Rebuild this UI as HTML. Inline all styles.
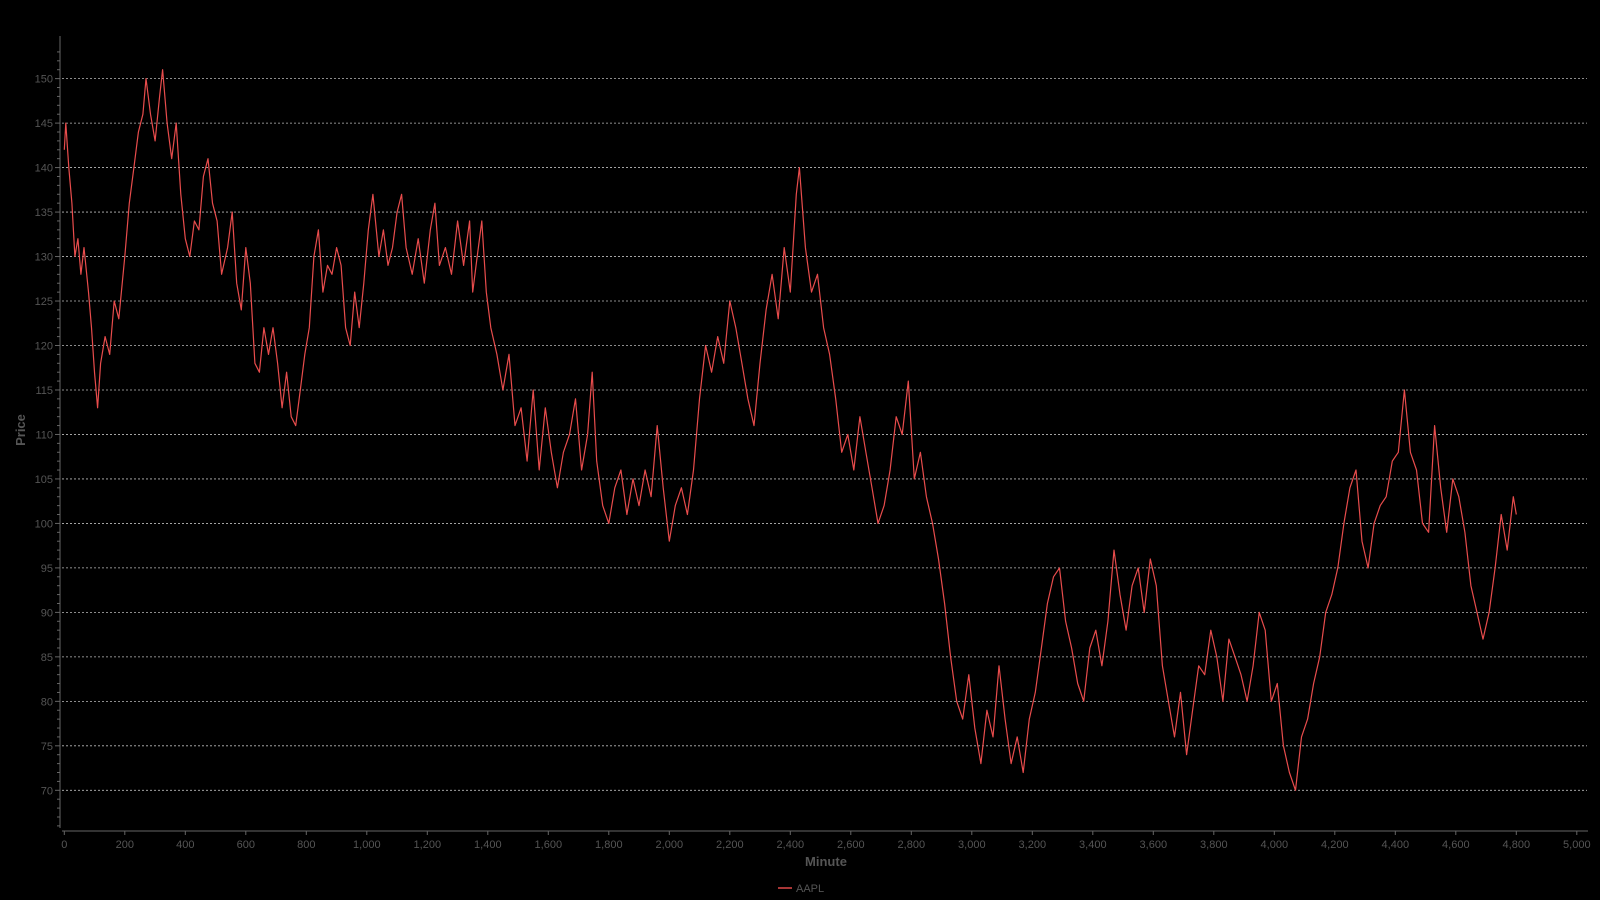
<!DOCTYPE html>
<html><head><meta charset="utf-8"><style>
html,body{margin:0;padding:0;background:#000;}
svg{display:block;font-family:"Liberation Sans",sans-serif;}
</style></head><body>
<svg id="chart" width="1600" height="900" viewBox="0 0 1600 900">
<rect width="1600" height="900" fill="#000"/>
<g id="grid"></g>
<g id="yaxis"></g>
<g id="xaxis"></g>
<g id="series"></g>
<text x="826" y="866" fill="#555" font-size="13" font-weight="bold" text-anchor="middle">Minute</text>
<text transform="translate(25,430) rotate(-90)" fill="#555" font-size="13" font-weight="bold" text-anchor="middle">Price</text>
<g>
<line x1="778" y1="888" x2="792" y2="888" stroke="#e04848" stroke-width="1.5"/>
<text x="796" y="892" fill="#555" font-size="11">AAPL</text>
</g>
</svg>
<script>
const minutes=[0,5,15,25,35,45,55,65,80,90,100,110,120,135,150,165,180,200,215,230,245,260,270,285,300,315,325,340,355,370,385,400,415,430,445,460,475,490,505,520,540,555,570,585,600,615,630,645,660,675,690,705,720,735,750,765,780,795,810,825,840,855,870,885,900,915,930,945,960,975,990,1005,1020,1040,1055,1070,1085,1100,1115,1130,1150,1170,1190,1210,1225,1240,1260,1280,1300,1320,1340,1350,1365,1380,1395,1410,1430,1450,1470,1490,1510,1530,1550,1570,1590,1610,1630,1650,1670,1690,1710,1730,1745,1760,1780,1800,1820,1840,1860,1880,1900,1920,1940,1960,1980,2000,2020,2040,2060,2080,2100,2120,2140,2160,2180,2200,2220,2240,2260,2280,2300,2320,2340,2360,2380,2400,2420,2430,2450,2470,2490,2510,2530,2550,2570,2590,2610,2630,2650,2670,2690,2710,2730,2750,2770,2790,2810,2830,2850,2870,2890,2910,2930,2950,2970,2990,3010,3030,3050,3070,3090,3110,3130,3150,3170,3190,3210,3230,3250,3270,3290,3310,3330,3350,3370,3390,3410,3430,3450,3470,3490,3510,3530,3550,3570,3590,3610,3630,3650,3670,3690,3710,3730,3750,3770,3790,3810,3830,3850,3870,3890,3910,3930,3950,3970,3990,4010,4030,4050,4070,4090,4110,4130,4150,4170,4190,4210,4230,4250,4270,4290,4310,4330,4350,4370,4390,4410,4430,4450,4470,4490,4510,4530,4550,4570,4590,4610,4630,4650,4670,4690,4710,4730,4750,4770,4790,4800];
const prices=[142,145,140,136,130,132,128,131,126,122,117,113,118,121,119,125,123,130,136,140,144,146,150,146,143,148,151,145,141,145,137,132,130,134,133,139,141,136,134,128,131,135,127,124,131,127,118,117,122,119,122,118,113,117,112,111,115,119,122,130,133,126,129,128,131,129,122,120,126,122,127,133,137,130,133,129,131,135,137,131,128,132,127,133,136,129,131,128,134,129,134,126,130,134,126,122,119,115,119,111,113,107,115,106,113,108,104,108,110,114,106,110,117,107,102,100,104,106,101,105,102,106,103,111,104,98,102,104,101,106,114,120,117,121,118,125,122,118,114,111,118,124,128,123,131,126,137,140,131,126,128,122,119,114,108,110,106,112,108,104,100,102,106,112,110,116,105,108,103,100,96,91,85,80,78,83,77,73,79,76,84,78,73,76,72,78,81,86,91,94,95,89,86,82,80,86,88,84,89,97,92,88,93,95,90,96,93,84,80,76,81,74,79,84,83,88,85,80,87,85,83,80,84,90,88,80,82,75,72,70,76,78,82,85,90,92,95,100,104,106,98,95,100,102,103,107,108,115,108,106,100,99,111,104,99,105,103,99,93,90,87,90,95,101,97,103,101];
const yTicks=[70,75,80,85,90,95,100,105,110,115,120,125,130,135,140,145,150];
const xTicks=[0,200,400,600,800,1000,1200,1400,1600,1800,2000,2200,2400,2600,2800,3000,3200,3400,3600,3800,4000,4200,4400,4600,4800,5000];
const NS='http://www.w3.org/2000/svg';
function xs(m){return 64.3+m*0.3025;}
function ys(p){return 790.3-(p-70)*8.896;}
function mk(tag,attrs,parent){const e=document.createElementNS(NS,tag);for(const k in attrs)e.setAttribute(k,attrs[k]);parent.appendChild(e);return e;}
const grid=document.getElementById('grid'),ya=document.getElementById('yaxis'),xa=document.getElementById('xaxis'),ser=document.getElementById('series');
yTicks.forEach(v=>{
  const g=mk('line',{x1:62,x2:1587,y1:ys(v),y2:ys(v),stroke:'#bbb','stroke-width':0.8,'stroke-dasharray':'2,2'},grid);
  
  
  const t=mk('text',{x:53,y:ys(v)+4,fill:'#555','font-size':11,'text-anchor':'end'},ya);
  t.textContent=v;
  
  
});
mk('line',{x1:60,x2:60,y1:36,y2:828,stroke:'#666'},ya);
for(let v=66;v<=153;v++){mk('line',{x1:v%5===0?55:57,x2:60,y1:ys(v),y2:ys(v),stroke:'#666'},ya);}
mk('line',{x1:62,x2:1588,y1:831,y2:831,stroke:'#666'},xa);
xTicks.forEach(v=>{
  mk('line',{x1:xs(v),x2:xs(v),y1:831,y2:835,stroke:'#666'},xa);
  const t=mk('text',{x:xs(v),y:848,fill:'#555','font-size':11,'text-anchor':'middle'},xa);
  t.textContent=v.toLocaleString('en-US');
  
  
});
let d='';
minutes.forEach((m,i)=>{d+=(i?'L':'M')+xs(m).toFixed(1)+','+ys(prices[i]).toFixed(1);});
const p=mk('path',{d:d,fill:'none',stroke:'#e84c4c','stroke-width':1.2,'stroke-linejoin':'round'},ser);


</script>
</body></html>
